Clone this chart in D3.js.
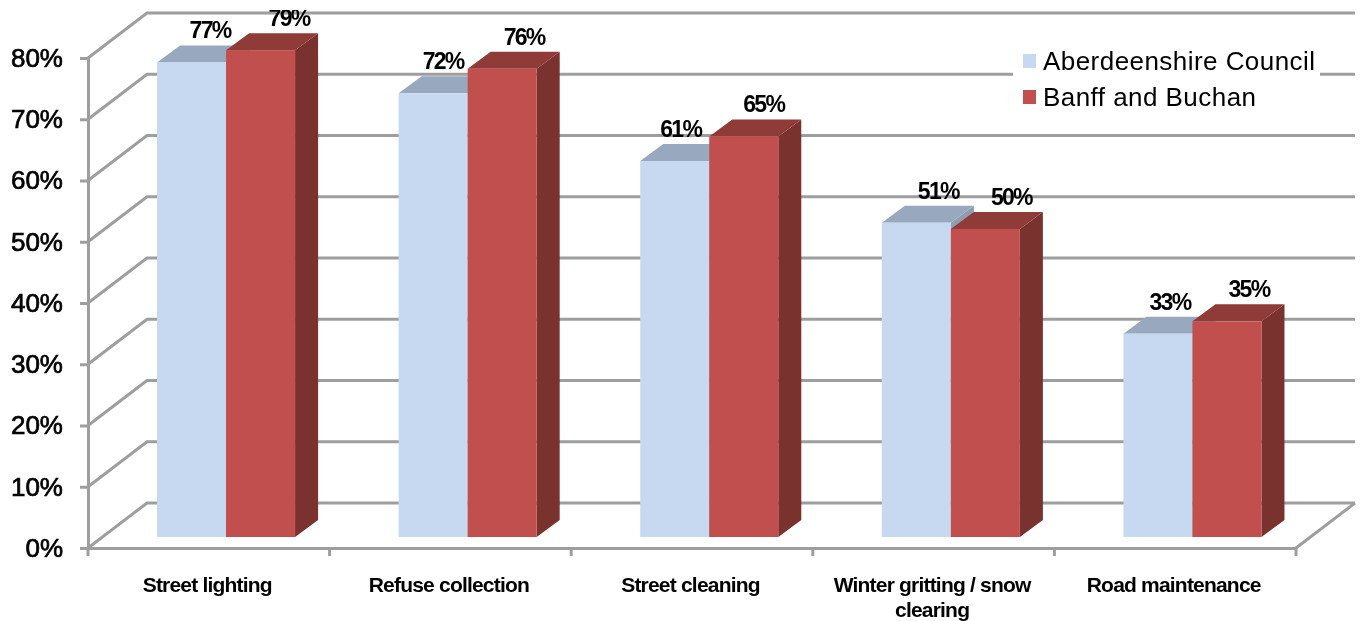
<!DOCTYPE html>
<html>
<head>
<meta charset="utf-8">
<script src="https://cdn.jsdelivr.net/npm/d3@7"></script>
<style>
	html, body { margin: 0; padding: 0; background: #fff; }
	svg { display: block; }
	text { font-family: "Liberation Sans", Arial, sans-serif; fill: #000; }
	.yAxis text { font-size: 26px; stroke: #000; stroke-width: 0.7px; }
	.xAxis text { font-size: 21px; font-weight: bold; letter-spacing: -0.8px; }
	.value { font-size: 23px; font-weight: bold; letter-spacing: -1.7px; text-anchor: middle; }
	.legendText { font-size: 26px; letter-spacing: 0.45px; }
	.grid { stroke: #9e9e9e; stroke-width: 3; fill: none; }
</style>
</head>
<body>
<script>
	var categories = ['Street lighting', 'Refuse collection', 'Street cleaning', 'Winter gritting / snow clearing', 'Road maintenance'];
	var seriesNames = ['Aberdeenshire Council', 'Banff and Buchan'];
	var aberdeenshire = [77, 72, 61, 51, 33];
	var banff = [79, 76, 65, 50, 35];
	var yTicks = [0, 10, 20, 30, 40, 50, 60, 70, 80];

	// labels do not sit centred on the bars in the original, so nudge them
	var labelNudge = [[18.5, 28.5], [10, 22], [6, 20], [22, 26], [12, 22]];

	var width = 1361, height = 621;

	// fake 3d: the chart box runs back by wall, the bars by depth
	var wall = {x: 59, y: -45},
		depth = {x: 23, y: -17},
		barShift = 17.25;

	var colors = [
		{front: '#c6d9f1', top: '#98a9bf', side: '#8e9db2'},
		{front: '#c0504d', top: '#8f3a38', side: '#79302e'}
	];

	var x = d3.scaleBand()
		.domain(categories)
		.range([88, 1296]);

	var xBar = d3.scaleBand()
		.domain(seriesNames)
		.range([0, x.bandwidth()])
		.paddingOuter(0.75);

	var y = d3.scaleLinear()
		.domain([0, 80])
		.range([548, 58]);

	// bars stand a bit further back, so they have their own scale
	var yBar = d3.scaleLinear()
		.domain([0, 80])
		.range([537, 44]);

	var svg = d3.select('body').append('svg')
		.attr('width', width)
		.attr('height', height);

	var defs = svg.append('defs');
	defs.append('filter').attr('id', 'soft')
		.append('feGaussianBlur').attr('stdDeviation', 0.6);
	defs.append('clipPath').attr('id', 'cut')
		.append('rect')
		.attr('x', 0)
		.attr('y', 10)
		.attr('width', width)
		.attr('height', height - 10);

	var g = svg.append('g')
		.attr('filter', 'url(#soft)')
		.attr('clip-path', 'url(#cut)');

	// back wall and left wall lines
	yTicks.forEach(function(t) {
		g.append('path')
			.attr('class', 'grid')
			.attr('d', d3.line()([
				[88, y(t)],
				[88 + wall.x, y(t) + wall.y],
				[1296 + wall.x, y(t) + wall.y]
			]));
	});

	// floor edge on the right side
	g.append('path')
		.attr('class', 'grid')
		.attr('d', d3.line()([
			[1296, y(0)],
			[1296 + wall.x, y(0) + wall.y]
		]));

	// axes
	var yAxis = d3.axisLeft(y)
		.tickValues(yTicks)
		.tickSize(8)
		.tickPadding(17)
		.tickFormat(function(d) { return d + '%'; });

	g.append('g')
		.attr('class', 'yAxis')
		.attr('transform', 'translate(88,0)')
		.call(yAxis)
		.call(function(a) {
			a.selectAll('path, line').attr('stroke', '#9e9e9e').attr('stroke-width', 3);
		});

	var xAxis = d3.axisBottom(x)
		.tickSize(0)
		.tickPadding(0);

	var xAxisG = g.append('g')
		.attr('class', 'xAxis')
		.attr('transform', 'translate(0,' + y(0) + ')')
		.call(xAxis);

	xAxisG.select('.domain')
		.attr('stroke', '#9e9e9e')
		.attr('stroke-width', 3);

	// split the long label in two lines
	xAxisG.selectAll('.tick text').each(function(d) {
		var t = d3.select(this).text(null).attr('y', 44).attr('dy', 0);
		var lines = d === categories[3] ? ['Winter gritting / snow', 'clearing'] : [d];
		lines.forEach(function(line, i) {
			t.append('tspan')
				.attr('x', -1.5)
				.attr('y', 44 + i * 25)
				.text(line);
		});
	});

	// tick marks sit between the categories
	categories.concat(['end']).forEach(function(c, i) {
		var xPos = x.range()[0] + i * x.step();
		g.append('line')
			.attr('x1', xPos)
			.attr('x2', xPos)
			.attr('y1', y(0))
			.attr('y2', y(0) + 8)
			.attr('stroke', '#9e9e9e')
			.attr('stroke-width', 3);
	});

	// bars
	[aberdeenshire, banff].forEach(function(values, s) {
		values.forEach(function(v, i) {
			var x0 = x(categories[i]) + xBar(seriesNames[s]) + barShift,
				x1 = x0 + xBar.bandwidth(),
				y0 = yBar(0),
				y1 = yBar(v),
				bar = g.append('g').attr('class', 'bar');

			bar.append('path')
				.attr('fill', colors[s].side)
				.attr('d', d3.line()([
					[x1, y1], [x1 + depth.x, y1 + depth.y],
					[x1 + depth.x, y0 + depth.y], [x1, y0]
				]));

			bar.append('path')
				.attr('fill', colors[s].top)
				.attr('d', d3.line()([
					[x0, y1], [x0 + depth.x, y1 + depth.y],
					[x1 + depth.x, y1 + depth.y], [x1, y1]
				]));

			bar.append('rect')
				.attr('x', x0)
				.attr('y', y1)
				.attr('width', x1 - x0)
				.attr('height', y0 - y1)
				.attr('fill', colors[s].front);
		});
	});

	// value labels go on top of all the bars
	[aberdeenshire, banff].forEach(function(values, s) {
		values.forEach(function(v, i) {
			var x0 = x(categories[i]) + xBar(seriesNames[s]) + barShift;
			g.append('text')
				.attr('class', 'value')
				.attr('x', x0 + xBar.bandwidth() / 2 + labelNudge[i][s])
				.attr('y', yBar(v) - 24)
				.text(v + '%');
		});
	});

	// legend, white box hides the wall line behind it
	var legend = g.append('g')
		.attr('transform', 'translate(1013,42)');

	legend.append('rect')
		.attr('width', 307)
		.attr('height', 75)
		.attr('fill', '#fff');

	seriesNames.forEach(function(name, s) {
		legend.append('rect')
			.attr('x', 10)
			.attr('y', 12 + s * 36)
			.attr('width', 13)
			.attr('height', 14)
			.attr('fill', colors[s].front);

		legend.append('text')
			.attr('class', 'legendText')
			.attr('x', 30)
			.attr('y', 28 + s * 36)
			.text(name);
	});
</script>
</body>
</html>
